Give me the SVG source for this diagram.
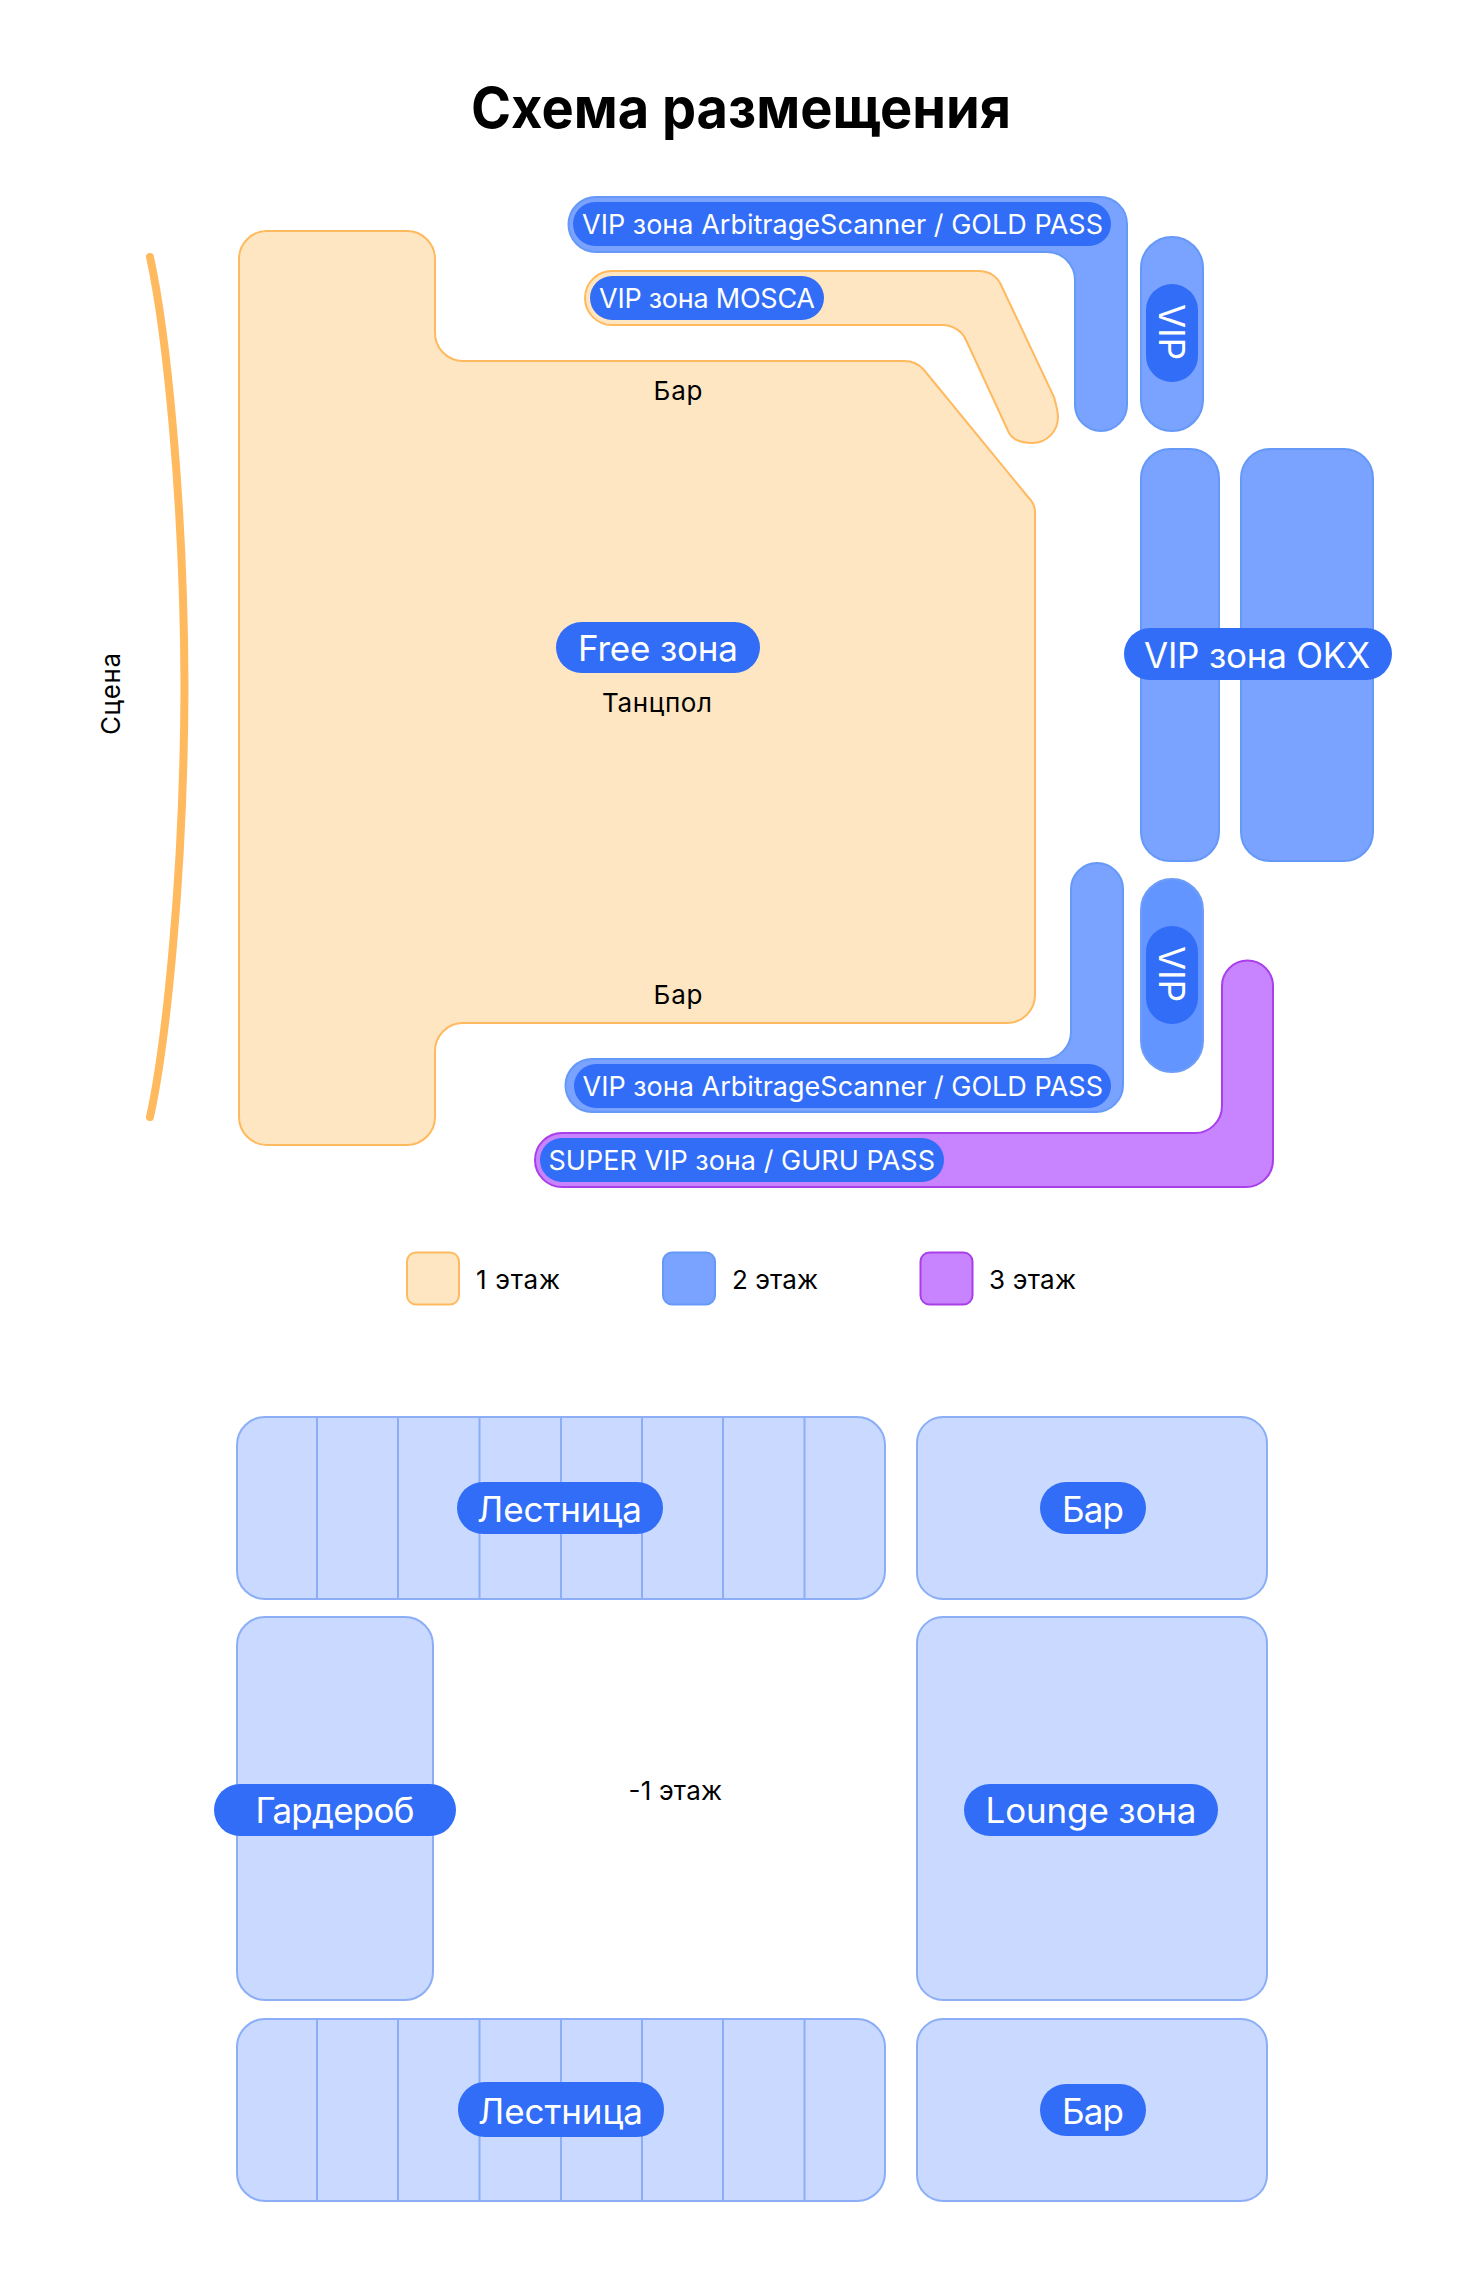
<svg xmlns="http://www.w3.org/2000/svg" width="1484" height="2274" viewBox="0 0 1484 2274">
<style>
text{font-family:Inter,"Noto Sans",sans-serif;}
.z1{fill:#FFE6C2;stroke:#FFB95F;stroke-width:2}
.z2{fill:#79A3FF;stroke:#6699F7;stroke-width:2}
.z2d{fill:#6295FF;stroke:#6E9DF8;stroke-width:2}
.z3{fill:#C884FF;stroke:#A93FE8;stroke-width:2}
.zb{fill:#C9D9FF;stroke:#8BAEF6;stroke-width:2}
.st{stroke:#8BAEF6;stroke-width:2;fill:none}
.pill{fill:#316DF6}
.pt{fill:#fff;font-size:27px}
.pl{fill:#fff;font-size:35px}
.lb{fill:#000;font-size:26px}
</style>
<rect width="1484" height="2274" fill="#fff"/>
<text x="471" y="128" font-size="56" font-weight="650" fill="#000" textLength="540" lengthAdjust="spacingAndGlyphs">Схема размещения</text>
<g id="scene">
<path d="M150 257C166 330 184 500 184.500 687C184 874 166 1044 150 1117" fill="none" stroke="#FFB95F" stroke-width="8" stroke-linecap="round"/>
<text class="lb" transform="translate(120 735) rotate(-90)" textLength="82">Сцена</text>
</g>
<g id="free-zone">
<path class="z1" d="M267 231H407A28 28 0 0 1 435 259V333A28 28 0 0 0 463 361H904C912 361 919 364 924 370L1028 497C1033 502 1035 506 1035 512V995A28 28 0 0 1 1007 1023H463A28 28 0 0 0 435 1051V1117A28 28 0 0 1 407 1145H267A28 28 0 0 1 239 1117V259A28 28 0 0 1 267 231Z"/>
<text class="lb" x="653.500" y="400" textLength="49">Бар</text>
<text class="lb" x="653.500" y="1004" textLength="49">Бар</text>
<rect class="pill" x="556" y="622" width="204" height="51" rx="25.5"/>
<text class="pl" x="578" y="661" textLength="160">Free зона</text>
<text class="lb" x="602" y="712" textLength="110">Танцпол</text>
</g>
<g id="vip-mosca">
<path class="z1" d="M612 271H978C990 271 998 277 1002 287L1054 397C1056 404 1058 411 1058 417A25.500 26 0 0 1 1032.500 443C1022 443 1013 440 1009 433L966 340C962 331 953 325 942 325H612A27 27 0 0 1 612 271Z"/>
<rect class="pill" x="590" y="276" width="234" height="44" rx="22"/>
<text class="pt" x="599" y="308" textLength="216">VIP зона MOSCA</text>
</g>
<g id="vip-gold-top">
<path class="z2" d="M596 197H1100A27 27 0 0 1 1127 224V405A26 26 0 0 1 1075 405V280A28 28 0 0 0 1047 252H596A27.500 27.500 0 0 1 596 197Z"/>
<rect class="pill" x="573" y="202" width="538" height="44" rx="22"/>
<text class="pt" x="582" y="234" textLength="521">VIP зона ArbitrageScanner / GOLD PASS</text>
</g>
<g id="vip-top">
<rect class="z2" x="1141" y="237" width="62" height="194" rx="31"/>
<rect class="pill" x="1146" y="284" width="52" height="98" rx="26"/>
<text class="pl" transform="translate(1159 304) rotate(90)" textLength="56">VIP</text>
</g>
<g id="vip-okx">
<rect class="z2" x="1141" y="449" width="78" height="412" rx="29"/>
<rect class="z2" x="1241" y="449" width="132" height="412" rx="29"/>
<rect class="pill" x="1124" y="628" width="268" height="52" rx="26"/>
<text class="pl" x="1144" y="668" textLength="226">VIP зона OKX</text>
</g>
<g id="vip-gold-bottom">
<path class="z2" d="M592 1059H1044A27 27 0 0 0 1071 1032V889A26 26 0 0 1 1123 889V1085A27 27 0 0 1 1096 1112H592A26.500 26.500 0 0 1 592 1059Z"/>
<rect class="pill" x="574" y="1064" width="537" height="44" rx="22"/>
<text class="pt" x="582.500" y="1096" textLength="520.500">VIP зона ArbitrageScanner / GOLD PASS</text>
</g>
<g id="vip-bottom">
<rect class="z2d" x="1141" y="879" width="62" height="193" rx="31"/>
<rect class="pill" x="1146" y="926" width="52" height="98" rx="26"/>
<text class="pl" transform="translate(1159 946) rotate(90)" textLength="56">VIP</text>
</g>
<g id="super-vip">
<path class="z3" d="M562 1133H1195A27 27 0 0 0 1222 1106V986A25.500 25.500 0 0 1 1273 986V1160A27 27 0 0 1 1246 1187H562A27 27 0 0 1 562 1133Z"/>
<rect class="pill" x="540" y="1138" width="404" height="44" rx="22"/>
<text class="pt" x="548.500" y="1170" textLength="386.500">SUPER VIP зона / GURU PASS</text>
</g>
<g id="legend">
<rect class="z1" x="407" y="1252.500" width="52" height="52" rx="9"/>
<text class="lb" x="476" y="1289" textLength="84">1 этаж</text>
<rect class="z2" x="663" y="1252.500" width="52" height="52" rx="9"/>
<text class="lb" x="732" y="1289" textLength="86">2 этаж</text>
<rect class="z3" x="920.500" y="1252.500" width="52" height="52" rx="9"/>
<text class="lb" x="989" y="1289" textLength="87">3 этаж</text>
</g>
<g id="stairs-top">
<rect class="zb" x="237" y="1417" width="648" height="182" rx="28"/>
<path class="st" d="M317 1417V1599M398 1417V1599M479.500 1417V1599M561 1417V1599M642 1417V1599M723 1417V1599M804.500 1417V1599"/>
<rect class="pill" x="457" y="1482" width="206" height="52" rx="26"/>
<text class="pl" x="477" y="1522" textLength="165">Лестница</text>
</g>
<g id="bar-top">
<rect class="zb" x="917" y="1417" width="350" height="182" rx="26"/>
<rect class="pill" x="1040" y="1482" width="106" height="52" rx="26"/>
<text class="pl" x="1062" y="1522" textLength="62">Бар</text>
</g>
<g id="wardrobe">
<rect class="zb" x="237" y="1617" width="196" height="383" rx="28"/>
<rect class="pill" x="214" y="1784" width="242" height="52" rx="26"/>
<text class="pl" x="255.500" y="1823" textLength="159">Гардероб</text>
</g>
<text class="lb" x="628.500" y="1800" textLength="93.500">-1 этаж</text>
<g id="lounge">
<rect class="zb" x="917" y="1617" width="350" height="383" rx="26"/>
<rect class="pill" x="964" y="1784" width="254" height="52" rx="26"/>
<text class="pl" x="985.500" y="1823" textLength="211">Lounge зона</text>
</g>
<g id="stairs-bottom">
<rect class="zb" x="237" y="2019" width="648" height="182" rx="28"/>
<path class="st" d="M317 2019V2201M398 2019V2201M479.500 2019V2201M561 2019V2201M642 2019V2201M723 2019V2201M804.500 2019V2201"/>
<rect class="pill" x="458" y="2082" width="206" height="55" rx="27"/>
<text class="pl" x="478" y="2124" textLength="165">Лестница</text>
</g>
<g id="bar-bottom">
<rect class="zb" x="917" y="2019" width="350" height="182" rx="26"/>
<rect class="pill" x="1040" y="2084" width="106" height="52" rx="26"/>
<text class="pl" x="1062" y="2124" textLength="62">Бар</text>
</g>
</svg>
